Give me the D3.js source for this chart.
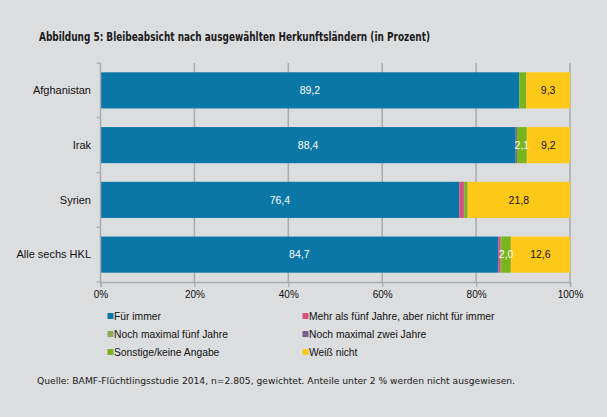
<!DOCTYPE html>
<html>
<head>
<meta charset="utf-8">
<script src="https://cdn.jsdelivr.net/npm/d3@7"></script>
<style>
html,body{margin:0;padding:0;background:#dcdddf;}
svg{display:block;}
</style>
</head>
<body>
<svg id="chart" width="607" height="417"></svg>
<script>
// ---- data ----
const categories = ["Afghanistan", "Irak", "Syrien", "Alle sechs HKL"];
const seriesNames = [
  "Für immer",
  "Mehr als fünf Jahre, aber nicht für immer",
  "Noch maximal fünf Jahre",
  "Noch maximal zwei  Jahre",
  "Sonstige/keine Angabe",
  "Weiß nicht"
];
const fuerImmer      = [89.2, 88.4, 76.4, 84.7];
const mehrAlsFuenf   = [0.0, 0.0, 1.0, 0.4];
const maxFuenf       = [0.0, 0.0, 0.2, 0.2];
const maxZwei        = [0.0, 0.3, 0.0, 0.1];
const sonstige       = [1.5, 2.1, 0.6, 2.0];
const weissNicht     = [9.3, 9.2, 21.8, 12.6];
const seriesValues = [fuerImmer, mehrAlsFuenf, maxFuenf, maxZwei, sonstige, weissNicht];
const xTicks = [0, 20, 40, 60, 80, 100];
const colors = ["#0b77a7", "#d4507f", "#8ea64e", "#7a5c91", "#77b41e", "#fec918"];
const labelColors = ["#ffffff", "#ffffff", "#ffffff", "#ffffff", "#ffffff", "#111111"];
const title = "Abbildung 5: Bleibeabsicht nach ausgewählten Herkunftsländern (in Prozent)";
const source = "Quelle: BAMF-Flüchtlingsstudie 2014, n=2.805, gewichtet. Anteile unter 2 % werden nicht ausgewiesen.";

// ---- build table ----
const keys = seriesNames.map((d, i) => "s" + i);
const table = categories.map((c, ci) => {
  const row = {cat: c};
  keys.forEach((k, si) => row[k] = seriesValues[si][ci]);
  return row;
});
const stacked = d3.stack().keys(keys)(table);

const svg = d3.select("#chart");
const pLeft = 100.5, pRight = 570, pTop = 63, pBottom = 282;

const x = d3.scaleLinear().domain([0, 100]).range([pLeft, pRight]);
const y = d3.scaleBand().domain(categories).range([pTop, pBottom]).paddingInner(0.34).paddingOuter(0.17);

// title
svg.append("text").attr("x", 39).attr("y", 41)
  .attr("font-family", "'DejaVu Sans Condensed', 'DejaVu Sans', sans-serif")
  .attr("font-weight", "bold").attr("font-size", 11.5).attr("fill", "#1a1a1a")
  .attr("textLength", 391).attr("lengthAdjust", "spacingAndGlyphs")
  .text(title);

// gridlines
svg.append("g").selectAll("line").data(xTicks.filter(t => t > 0)).join("line")
  .attr("x1", d => x(d)).attr("x2", d => x(d))
  .attr("y1", pTop).attr("y2", pBottom)
  .attr("stroke", "#a9aaac").attr("stroke-width", 1.5);

// bars
const g = svg.append("g");
stacked.forEach((layer, si) => {
  g.append("g").selectAll("rect").data(layer).join("rect")
    .attr("x", d => x(d[0]))
    .attr("y", d => y(d.data.cat))
    .attr("width", d => Math.max(0, x(d[1]) - x(d[0])))
    .attr("height", y.bandwidth())
    .attr("fill", colors[si]);
});
// labels
stacked.forEach((layer, si) => {
  g.append("g").selectAll("text").data(layer.filter(d => (d[1] - d[0]) >= 2)).join("text")
    .attr("x", d => (x(d[0]) + x(d[1])) / 2)
    .attr("y", d => y(d.data.cat) + y.bandwidth() / 2)
    .attr("dy", "0.35em")
    .attr("text-anchor", "middle")
    .attr("font-family", "'Liberation Sans', Arial, sans-serif")
    .attr("font-size", 10.5)
    .attr("fill", labelColors[si])
    .text(d => d3.format(".1f")(d[1] - d[0]).replace(".", ","));
});

// left axis
const yAxis = svg.append("g").attr("transform", `translate(${pLeft},0)`);
yAxis.append("line").attr("x1", 0).attr("x2", 0).attr("y1", pTop).attr("y2", pBottom)
  .attr("stroke", "#a9aaac").attr("stroke-width", 1.5);
const bounds = d3.range(categories.length + 1).map(i => pTop + i * (pBottom - pTop) / categories.length);
yAxis.selectAll("line.t").data(bounds).join("line").attr("class", "t")
  .attr("x1", -4).attr("x2", 0).attr("y1", d => d).attr("y2", d => d)
  .attr("stroke", "#a9aaac").attr("stroke-width", 1.2);
svg.append("g").selectAll("text").data(categories).join("text")
  .attr("x", 91).attr("y", d => y(d) + y.bandwidth() / 2).attr("dy", "0.35em")
  .attr("text-anchor", "end")
  .attr("font-family", "'Liberation Sans', Arial, sans-serif")
  .attr("font-size", 11).attr("fill", "#111")
  .text(d => d);

// bottom axis
const xAxis = d3.axisBottom(x).tickValues(xTicks).tickSize(5).tickFormat(d => d + "%");
const xg = svg.append("g").attr("transform", `translate(0,${pBottom})`).call(xAxis);
xg.select(".domain").attr("stroke", "#a9aaac").attr("stroke-width", 1.5);
xg.selectAll(".tick line").attr("stroke", "#a9aaac").attr("stroke-width", 1.2);
xg.selectAll(".tick text").attr("font-family", "'Liberation Sans', Arial, sans-serif")
  .attr("font-size", 10).attr("fill", "#111").attr("dy", "0.71em").attr("y", 9);

// legend
const legendPos = [[108, 316], [303, 316], [108, 334], [303, 334], [108, 352], [303, 352]];
const lg = svg.append("g");
seriesNames.forEach((name, si) => {
  const [lx, ly] = legendPos[si];
  lg.append("rect").attr("x", lx - 0.5).attr("y", ly - 3).attr("width", 6).attr("height", 6)
    .attr("fill", colors[si]);
  lg.append("text").attr("x", lx + 6).attr("y", ly).attr("dy", "0.35em")
    .attr("font-family", "'Liberation Sans', Arial, sans-serif")
    .attr("font-size", 10.3).attr("fill", "#111")
    .text(name);
});

// source
svg.append("text").attr("x", 37).attr("y", 384)
  .attr("font-family", "'DejaVu Sans Condensed', 'DejaVu Sans', sans-serif")
  .attr("font-size", 9.5).attr("fill", "#1a1a1a")
  .attr("textLength", 478).attr("lengthAdjust", "spacingAndGlyphs")
  .text(source);
</script>
</body>
</html>
